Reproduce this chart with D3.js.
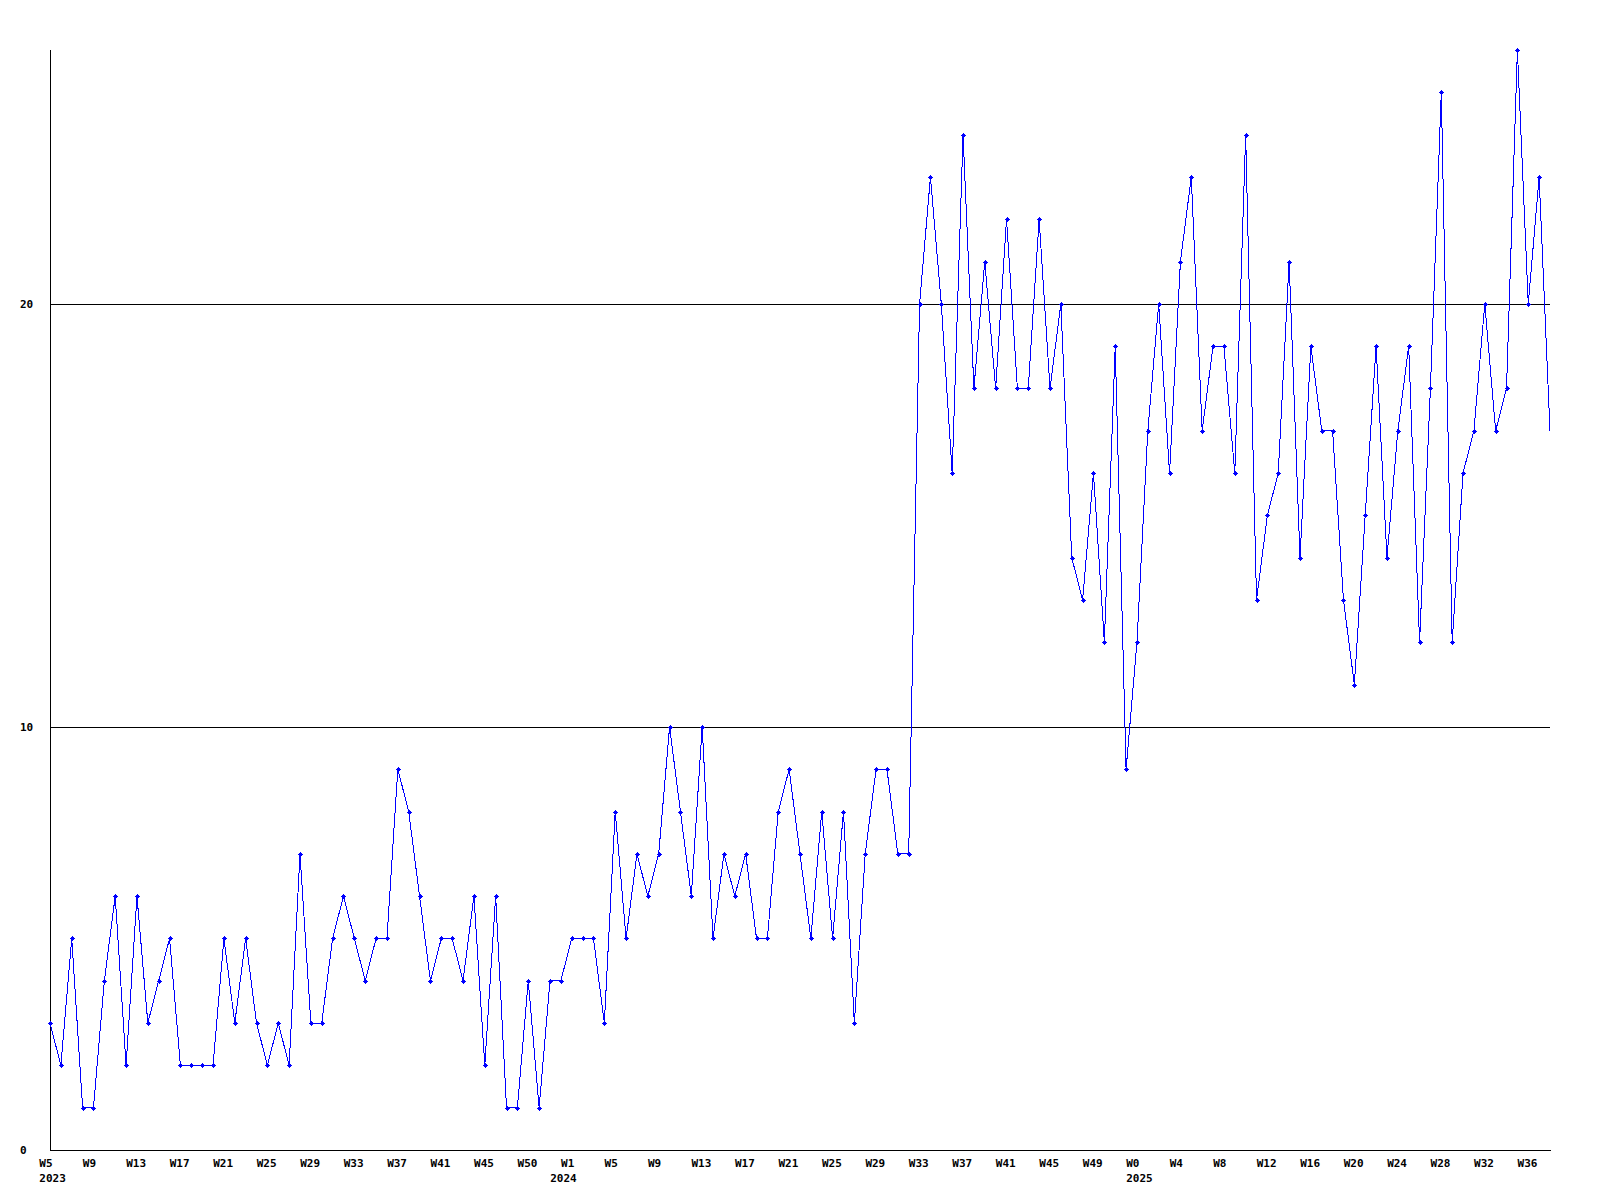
<!DOCTYPE html>
<html>
<head>
<meta charset="utf-8">
<script src="https://cdn.jsdelivr.net/npm/d3@7"></script>
<style>
  html, body { margin: 0; padding: 0; background: #ffffff; }
  svg { display: block; }
  text { font-family: "DejaVu Sans Mono", monospace; font-weight: bold; font-size: 11px; fill: #000; }
</style>
</head>
<body>
<svg id="chart" width="1600" height="1200"></svg>
<script>
// Weekly counts, 2023 W5 .. 2025 W38 (one value per week)
const values = [
  3,2,5,1,1,4,6,2,6,3,
  4,5,2,2,2,2,5,3,5,3,
  2,3,2,7,3,3,5,6,5,4,
  5,5,9,8,6,4,5,5,4,6,
  2,6,1,1,4,1,4,4,5,5,
  5,3,8,5,7,6,7,10,8,6,
  10,5,7,6,7,5,5,8,9,7,
  5,8,5,8,3,7,9,9,7,7,
  20,23,20,16,24,18,21,18,22,18,
  18,22,18,20,14,13,16,12,19,9,
  12,17,20,16,21,23,17,19,19,16,
  24,13,15,16,21,14,19,17,17,13,
  11,15,19,14,17,19,12,18,25,12,
  16,17,20,17,18,26,20,23,17
];

// Week tick labels and the point index each sits under
const weekTickIndex = [0,4,8,12,16,20,24,28,32,36,40,44,
                       48,52,56,60,64,68,72,76,80,84,88,92,96,
                       100,104,108,112,116,120,124,128,132,136];
const weekTickText  = ["W5","W9","W13","W17","W21","W25","W29","W33","W37","W41","W45","W50",
                       "W1","W5","W9","W13","W17","W21","W25","W29","W33","W37","W41","W45","W49",
                       "W0","W4","W8","W12","W16","W20","W24","W28","W32","W36"];
const yearTickIndex = [0, 47, 100];
const yearTickText  = ["2023","2024","2025"];

const yTicks = [0, 10, 20];
const yMax = 26;

(function () {
  const svg = d3.select("#chart");
  const plotLeft = 50, plotRight = 1550, plotTop = 50, plotBottom = 1150;

  const x = d3.scaleLinear().domain([0, values.length - 1]).range([plotLeft, plotRight]);
  const y = d3.scaleLinear().domain([0, yMax]).range([plotBottom, plotTop]);

  // grid lines (non-zero ticks)
  svg.append("g").selectAll("line")
    .data(yTicks.filter(d => d > 0))
    .join("line")
    .attr("x1", plotLeft).attr("x2", plotRight)
    .attr("y1", d => Math.round(y(d)) + 0.5).attr("y2", d => Math.round(y(d)) + 0.5)
    .attr("stroke", "#000").attr("stroke-width", 1)
    .attr("shape-rendering", "crispEdges");

  // axes lines
  svg.append("line")
    .attr("x1", plotLeft + 0.5).attr("x2", plotLeft + 0.5)
    .attr("y1", plotTop).attr("y2", plotBottom + 1)
    .attr("stroke", "#000").attr("shape-rendering", "crispEdges");
  svg.append("line")
    .attr("x1", plotLeft).attr("x2", plotRight + 1)
    .attr("y1", plotBottom + 0.5).attr("y2", plotBottom + 0.5)
    .attr("stroke", "#000").attr("shape-rendering", "crispEdges");

  // y tick labels
  svg.append("g").selectAll("text")
    .data(yTicks)
    .join("text")
    .attr("x", 20)
    .attr("y", d => Math.round(y(d)) + 4)
    .text(d => d);

  // x tick labels (weeks)
  svg.append("g").selectAll("text")
    .data(weekTickIndex)
    .join("text")
    .attr("x", d => x(d) - 10.7)
    .attr("y", 1167)
    .text((d, i) => weekTickText[i]);

  // year labels
  svg.append("g").selectAll("text")
    .data(yearTickIndex)
    .join("text")
    .attr("x", d => x(d) - 10.7)
    .attr("y", 1182)
    .text((d, i) => yearTickText[i]);

  // data line
  const line = d3.line()
    .x((d, i) => x(i))
    .y(d => y(d));

  svg.append("path")
    .datum(values)
    .attr("d", line)
    .attr("fill", "none")
    .attr("stroke", "#0000ff")
    .attr("stroke-width", 1)
    .attr("shape-rendering", "crispEdges");

  // markers (small thick plus); the last point has none in the reference
  const marker = "M-1.5,-1.5h3v3h-3Z M-2.5,-0.5h5v1h-5Z M-0.5,-2.5h1v5h-1Z";
  svg.append("g").selectAll("path")
    .data(values.slice(0, values.length - 1))
    .join("path")
    .attr("transform", (d, i) => `translate(${Math.round(x(i)) + 0.5},${Math.round(y(d)) + 0.5})`)
    .attr("d", marker)
    .attr("fill", "#0000ff")
    .attr("shape-rendering", "crispEdges");
})();
</script>
</body>
</html>
